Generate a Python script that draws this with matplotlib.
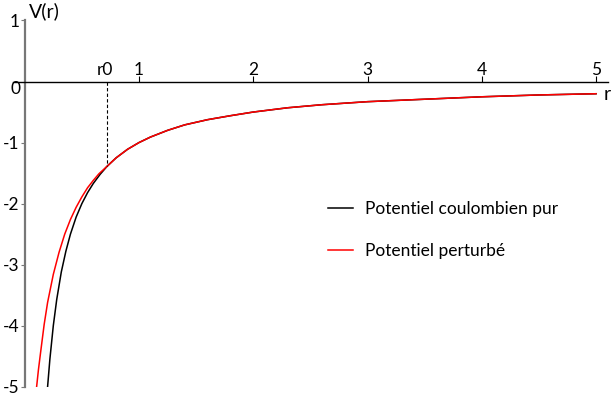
import matplotlib
matplotlib.use('Agg')
import matplotlib.pyplot as plt

plt.rcParams['font.family'] = ['Lato', 'DejaVu Sans']
plt.rcParams['axes.unicode_minus'] = False

# potentiel coulombien pur
r_pur = [0.2, 0.22, 0.25, 0.28, 0.32, 0.36, 0.4, 0.45, 0.5, 0.55, 0.6, 0.66,
         0.72, 0.8, 0.9, 1.0, 1.1, 1.25, 1.4, 1.6, 1.8, 2.0, 2.3, 2.6, 3.0,
         3.5, 4.0, 4.5, 5.0]
v_pur = [-5.0, -4.55, -4.0, -3.57, -3.12, -2.78, -2.5, -2.22, -2.0, -1.82,
         -1.67, -1.52, -1.39, -1.25, -1.11, -1.0, -0.91, -0.8, -0.71, -0.625,
         -0.56, -0.5, -0.43, -0.38, -0.33, -0.29, -0.25, -0.22, -0.2]

# potentiel perturbe, partie r < r0
r_pert_in = [0.104, 0.12, 0.14, 0.17, 0.2, 0.25, 0.3, 0.35, 0.4, 0.45, 0.5,
             0.55, 0.6, 0.65]
v_pert_in = [-5.0, -4.72, -4.42, -3.98, -3.62, -3.16, -2.8, -2.5, -2.26,
             -2.06, -1.89, -1.74, -1.62, -1.51]

r0 = 0.72
v_r0 = -1.39

xticks = [1, 2, 3, 4, 5]
yticks = [-5, -4, -3, -2, -1, 1]

# au-dela de r0 les deux courbes se confondent
r_pert = r_pert_in + [r for r in r_pur if r >= r0]
v_pert = v_pert_in + [v for r, v in zip(r_pur, v_pur) if r >= r0]

fig = plt.figure(figsize=(6.12, 3.98), dpi=100)
ax = fig.add_axes([0.0212, 0.0284, 0.9723, 0.9201])

ax.plot(r_pur, v_pur, color='black', lw=1.1, label='Potentiel coulombien pur')
ax.plot(r_pert, v_pert, color='red', lw=1.1, label='Potentiel perturbé')
ax.plot([r0, r0], [0, v_r0], color='black', lw=0.8, ls=(0, (3, 2)))

ax.set_xlim(-0.103, 5.105)
ax.set_ylim(-5, 1)

for s in ['top', 'right']:
    ax.spines[s].set_visible(False)
ax.spines['bottom'].set_position(('data', 0))
ax.spines['left'].set_position(('data', 0))
ax.spines['left'].set_color('#777777')
ax.spines['left'].set_linewidth(1.6)
ax.spines['bottom'].set_linewidth(1.0)

ax.set_xticks(xticks)
ax.set_yticks(yticks)
ax.tick_params(axis='x', direction='in', length=4, pad=-14, labelsize=12.5)
ax.tick_params(axis='y', direction='out', length=3, pad=1, labelsize=12.5,
               color='#777777')

ax.text(-0.08, -0.13, '0', fontsize=12.5, ha='center', va='center')
ax.text(r0 - 0.02, 0.06, 'r0', fontsize=12.5, ha='center', va='bottom')
ax.text(5.07, -0.22, 'r', fontsize=14, ha='left', va='center')
ax.text(0.04, 1.15, 'V(r)', fontsize=14, ha='left', va='center')

ax.legend(loc='upper left', bbox_to_anchor=(0.536, 0.495),
          bbox_transform=fig.transFigure, frameon=False, fontsize=12.5,
          handlelength=1.45, handletextpad=0.7, labelspacing=1.5,
          borderpad=0, borderaxespad=0)

fig.savefig('out.png', dpi=100)
